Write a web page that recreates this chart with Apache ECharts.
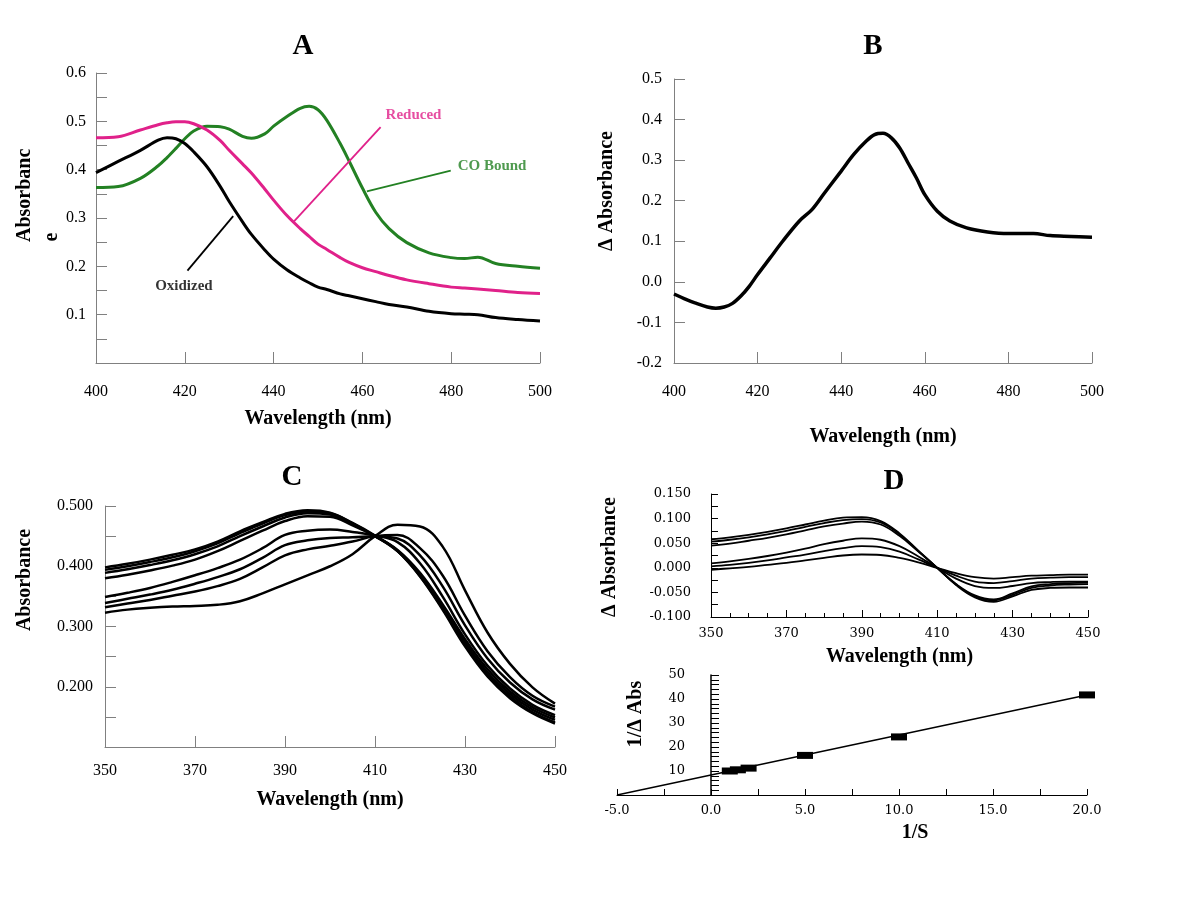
<!DOCTYPE html>
<html>
<head>
<meta charset="utf-8">
<script src="https://cdn.jsdelivr.net/npm/echarts@6/dist/echarts.min.js"></script>
<style>
html, body { margin: 0; padding: 0; background: #fff; }
#container { width: 1200px; height: 900px; }
</style>
</head>
<body>
<div id="container"></div>
<script>
// ---- panel A : absolute spectra ----
var waveA = [400,405,410,414,416,418,420,422,425,428,430,433,435,438,440,443,446,448,450,452,455,457,460,463,466,470,475,480,483,486,490,495,500];
var oxidized = [0.394,0.417,0.440,0.461,0.466,0.464,0.454,0.437,0.406,0.365,0.334,0.292,0.266,0.234,0.215,0.193,0.176,0.166,0.157,0.152,0.143,0.139,0.133,0.127,0.121,0.116,0.107,0.102,0.101,0.100,0.094,0.090,0.087];
var reduced = [0.466,0.468,0.482,0.493,0.497,0.499,0.499,0.495,0.482,0.460,0.440,0.412,0.393,0.360,0.337,0.305,0.278,0.262,0.246,0.235,0.218,0.208,0.197,0.189,0.181,0.172,0.164,0.157,0.155,0.153,0.150,0.146,0.144];
var coBound = [0.363,0.365,0.382,0.408,0.425,0.444,0.464,0.480,0.490,0.489,0.484,0.469,0.465,0.474,0.490,0.510,0.527,0.531,0.524,0.502,0.454,0.418,0.362,0.312,0.278,0.249,0.228,0.218,0.216,0.219,0.206,0.200,0.196];
// pointer lines and labels of panel A, in data units
var pointerReduced = [[464.1,0.488],[444.6,0.293]];
var pointerCO = [[479.9,0.398],[461.0,0.355]];
var pointerOx = [[420.6,0.191],[430.9,0.304]];
var labelsA = [
    {name:'Reduced', value:[471.5,0.512], color:'#e0218a'},
    {name:'CO Bound', value:[489.2,0.408], color:'#238123'},
    {name:'Oxidized', value:[419.8,0.160], color:'#000000'}
];

// ---- panel B : difference spectrum ----
var waveB = [400,403,405,408,410,412,414,416,418,420,423,426,430,433,436,440,443,446,448,450,452,454,456,458,460,463,466,470,475,480,486,490,495,500];
var deltaB = [-0.030,-0.044,-0.052,-0.062,-0.065,-0.062,-0.053,-0.035,-0.011,0.018,0.059,0.100,0.150,0.178,0.219,0.273,0.314,0.347,0.363,0.366,0.355,0.330,0.293,0.256,0.215,0.174,0.150,0.133,0.123,0.119,0.119,0.114,0.112,0.110];

// ---- panel C : titration spectra ----
var waveC = [350,355,360,365,370,375,380,385,390,395,400,405,410,415,420,425,430,435,440,445,450];
var specC = [
    [0.398,0.404,0.411,0.419,0.428,0.441,0.458,0.473,0.487,0.493,0.489,0.472,0.451,0.425,0.383,0.328,0.267,0.217,0.181,0.156,0.139],
    [0.394,0.400,0.407,0.415,0.425,0.438,0.455,0.471,0.485,0.491,0.488,0.471,0.450,0.425,0.384,0.330,0.270,0.220,0.184,0.158,0.141],
    [0.389,0.395,0.402,0.410,0.420,0.433,0.450,0.466,0.481,0.488,0.486,0.470,0.450,0.426,0.386,0.333,0.274,0.224,0.188,0.162,0.145],
    [0.380,0.386,0.393,0.401,0.411,0.425,0.442,0.459,0.475,0.483,0.482,0.468,0.450,0.427,0.389,0.337,0.279,0.229,0.192,0.166,0.149],
    [0.349,0.356,0.364,0.374,0.385,0.397,0.411,0.430,0.452,0.459,0.461,0.457,0.451,0.440,0.405,0.350,0.287,0.235,0.197,0.170,0.153],
    [0.339,0.346,0.353,0.361,0.371,0.382,0.395,0.414,0.435,0.443,0.447,0.448,0.450,0.446,0.418,0.367,0.302,0.247,0.207,0.179,0.162],
    [0.332,0.338,0.344,0.351,0.358,0.367,0.379,0.398,0.418,0.428,0.434,0.441,0.450,0.452,0.430,0.385,0.318,0.259,0.216,0.185,0.167],
    [0.323,0.328,0.331,0.333,0.334,0.336,0.342,0.355,0.370,0.385,0.400,0.420,0.450,0.469,0.466,0.433,0.360,0.290,0.238,0.199,0.172]
];

// ---- panel D : difference spectra + double reciprocal plot ----
var waveD = [350,355,360,365,370,375,380,385,390,395,400,405,410,415,420,425,430,435,440,445,450];
var diffD = [
    [0.058,0.062,0.067,0.073,0.080,0.088,0.096,0.102,0.103,0.095,0.070,0.035,0.000,-0.033,-0.056,-0.064,-0.052,-0.038,-0.033,-0.031,-0.030],
    [0.053,0.057,0.062,0.068,0.075,0.083,0.091,0.097,0.099,0.092,0.068,0.034,0.000,-0.034,-0.058,-0.066,-0.055,-0.041,-0.036,-0.034,-0.033],
    [0.045,0.049,0.055,0.061,0.068,0.076,0.084,0.090,0.094,0.088,0.065,0.033,0.000,-0.035,-0.060,-0.069,-0.058,-0.045,-0.041,-0.040,-0.040],
    [0.009,0.013,0.018,0.024,0.031,0.039,0.048,0.055,0.060,0.057,0.044,0.023,0.000,-0.022,-0.037,-0.041,-0.037,-0.031,-0.029,-0.028,-0.028],
    [0.003,0.006,0.010,0.015,0.021,0.027,0.034,0.040,0.044,0.042,0.033,0.017,0.000,-0.016,-0.028,-0.031,-0.027,-0.022,-0.020,-0.019,-0.019],
    [-0.004,-0.001,0.002,0.006,0.010,0.015,0.020,0.025,0.027,0.026,0.020,0.011,0.000,-0.011,-0.019,-0.022,-0.019,-0.016,-0.015,-0.014,-0.014]
];
var invS = [1.0,1.43,2.0,5.0,10.0,20.0];
var invAbs = [10.0,10.5,11.2,16.5,24.2,41.7];
var fitX = [-5.0,20.0];
var fitY = [0.0,41.7];

function pairs(xs, ys){
    return xs.map(function(x, i){ return [x, ys[i]]; });
}

var serif = 'Liberation Serif';
var wide = 'DejaVu Serif';
var grey = '#808080';

var myChart = echarts.init(document.getElementById('container'));

function nameStyle(){
    return {fontFamily: serif, fontWeight: 'bold', fontSize: 20, color: '#000'};
}
function labelStyle(extra){
    var s = {color: '#000', fontFamily: serif, fontSize: 16};
    for (var k in extra) s[k] = extra[k];
    return s;
}
function curve(xi, data, color, width, smooth){
    return {type:'line', xAxisIndex:xi, yAxisIndex:xi, data:data, smooth:smooth,
        showSymbol:false, lineStyle:{color:color, width:width}};
}

var series = [];
// A
series.push(curve(0, pairs(waveA, coBound), '#238123', 3, 0.35));
series.push(curve(0, pairs(waveA, reduced), '#e0218a', 3, 0.35));
series.push(curve(0, pairs(waveA, oxidized), '#000', 3, 0.35));
[[pointerReduced,'#e0218a'],[pointerCO,'#238123'],[pointerOx,'#000']].forEach(function(p){
    series.push(curve(0, p[0], p[1], 1.8, false));
});
series.push({type:'scatter', xAxisIndex:0, yAxisIndex:0, symbolSize:1,
    itemStyle:{color:'rgba(0,0,0,0)'},
    data: labelsA.map(function(l){
        return {name:l.name, value:l.value, label:{color:l.color}};
    }),
    label:{show:true, position:'inside', formatter:'{b}', fontFamily:serif, fontWeight:'bold', fontSize:15}});
// B
series.push(curve(1, pairs(waveB, deltaB), '#000', 3.5, 0.35));
// C
specC.forEach(function(s){
    series.push(curve(2, pairs(waveC, s), '#000', 2.5, 0.4));
});
// D top
diffD.forEach(function(s){
    series.push(curve(3, pairs(waveD, s), '#000', 1.8, 0.4));
});
// D bottom
series.push(curve(4, pairs(fitX, fitY), '#000', 1.5, false));
series.push({type:'scatter', xAxisIndex:4, yAxisIndex:4, data: pairs(invS, invAbs), symbol:'rect', symbolSize:[16,7],
    itemStyle:{color:'#000', opacity:1}});

var option = {
    animation: false,
    backgroundColor: '#fff',
    grid: [
        {left:96, top:73, width:444, height:290},
        {left:674, top:79, width:418, height:284},
        {left:105, top:506, width:450, height:241},
        {left:711, top:494, width:377, height:123},
        {left:617, top:675, width:470, height:120}
    ],
    xAxis: [
        {gridIndex:0, type:'value', min:400, max:500, interval:20,
            axisLine:{onZero:false, lineStyle:{color:grey}}, axisTick:{inside:true, length:11, lineStyle:{color:grey}},
            axisLabel:labelStyle({margin:21}), splitLine:{show:false},
            name:'Wavelength (nm)', nameLocation:'middle', nameGap:46, nameTextStyle:nameStyle()},
        {gridIndex:1, type:'value', min:400, max:500, interval:20,
            axisLine:{onZero:false, lineStyle:{color:grey}}, axisTick:{inside:true, length:11, lineStyle:{color:grey}},
            axisLabel:labelStyle({margin:21}), splitLine:{show:false},
            name:'Wavelength (nm)', nameLocation:'middle', nameGap:64, nameTextStyle:nameStyle()},
        {gridIndex:2, type:'value', min:350, max:450, interval:20,
            axisLine:{onZero:false, lineStyle:{color:grey}}, axisTick:{inside:true, length:11, lineStyle:{color:grey}},
            axisLabel:labelStyle({margin:16}), splitLine:{show:false},
            name:'Wavelength (nm)', nameLocation:'middle', nameGap:43, nameTextStyle:nameStyle()},
        {gridIndex:3, type:'value', min:350, max:450, interval:20,
            axisLine:{onZero:false, lineStyle:{color:'#000'}}, axisTick:{inside:true, length:7, lineStyle:{color:'#000'}},
            minorTick:{show:true, splitNumber:4, length:4, lineStyle:{color:'#000'}},
            axisLabel:{color:'#000', fontFamily:wide, fontSize:13, margin:10}, splitLine:{show:false},
            name:'Wavelength (nm)', nameLocation:'middle', nameGap:30, nameTextStyle:nameStyle()},
        {gridIndex:4, type:'value', min:-5, max:20, interval:5,
            axisLine:{onZero:false, lineStyle:{color:'#000'}}, axisTick:{inside:true, length:6, lineStyle:{color:'#000'}},
            minorTick:{show:true, splitNumber:2, length:6, lineStyle:{color:'#000'}},
            axisLabel:{color:'#000', fontFamily:wide, fontSize:13, margin:9,
                formatter:function(v){ return v.toFixed(1); }}, splitLine:{show:false}}
    ],
    yAxis: [
        {gridIndex:0, type:'value', min:0, max:0.6, interval:0.1,
            axisLine:{show:true, onZero:false, lineStyle:{color:grey}},
            axisTick:{show:true, inside:true, length:11, lineStyle:{color:grey}},
            minorTick:{show:true, splitNumber:2, length:11, lineStyle:{color:grey}},
            axisLabel:labelStyle({margin:10, formatter:function(v){ return v === 0 ? '' : v.toFixed(1); }}),
            splitLine:{show:false}},
        {gridIndex:1, type:'value', min:-0.2, max:0.5, interval:0.1,
            axisLine:{show:true, onZero:false, lineStyle:{color:grey}},
            axisTick:{show:true, inside:true, length:11, lineStyle:{color:grey}},
            axisLabel:labelStyle({margin:12, formatter:function(v){ return v.toFixed(1); }}),
            splitLine:{show:false}},
        {gridIndex:2, type:'value', min:0.1, max:0.5, interval:0.1,
            axisLine:{show:true, onZero:false, lineStyle:{color:grey}},
            axisTick:{show:true, inside:true, length:11, lineStyle:{color:grey}},
            minorTick:{show:true, splitNumber:2, length:11, lineStyle:{color:grey}},
            axisLabel:labelStyle({margin:12, formatter:function(v){ return v < 0.15 ? '' : v.toFixed(3); }}),
            splitLine:{show:false}},
        {gridIndex:3, type:'value', min:-0.1, max:0.15, interval:0.05,
            axisLine:{show:true, onZero:false, lineStyle:{color:'#000'}},
            axisTick:{show:true, inside:true, length:7, lineStyle:{color:'#000'}},
            minorTick:{show:true, splitNumber:2, length:7, lineStyle:{color:'#000'}},
            axisLabel:{color:'#000', fontFamily:wide, fontSize:13, margin:20,
                formatter:function(v){ return v.toFixed(3); }},
            splitLine:{show:false}},
        // the 1/S = 0 line sits 5/25 of the grid width from the left
        {gridIndex:4, type:'value', min:0, max:50, interval:10, offset:-94,
            axisLine:{show:true, onZero:false, lineStyle:{color:'#000', width:1.5}},
            axisTick:{show:true, inside:true, length:8, lineStyle:{color:'#000'}},
            minorTick:{show:true, splitNumber:5, length:8, lineStyle:{color:'#000'}},
            axisLabel:{color:'#000', fontFamily:wide, fontSize:13, margin:26,
                formatter:function(v){ return v === 0 ? '' : String(v); }},
            splitLine:{show:false}}
    ],
    graphic: [
        {type:'text', x:303, y:47, style:{text:'A', font:'bold 29px "Liberation Serif"', fill:'#000', align:'center', verticalAlign:'middle'}},
        {type:'text', x:873, y:47, style:{text:'B', font:'bold 29px "Liberation Serif"', fill:'#000', align:'center', verticalAlign:'middle'}},
        {type:'text', x:292, y:478, style:{text:'C', font:'bold 29px "Liberation Serif"', fill:'#000', align:'center', verticalAlign:'middle'}},
        {type:'text', x:894, y:482, style:{text:'D', font:'bold 29px "Liberation Serif"', fill:'#000', align:'center', verticalAlign:'middle'}},
        {type:'text', x:25, y:242, rotation:Math.PI/2, style:{text:'Absorbanc', font:'bold 20px "Liberation Serif"', fill:'#000', align:'left', verticalAlign:'middle'}},
        {type:'text', x:52, y:237, rotation:Math.PI/2, style:{text:'e', font:'bold 20px "Liberation Serif"', fill:'#000', align:'center', verticalAlign:'middle'}},
        {type:'text', x:607, y:191, rotation:Math.PI/2, style:{text:'\u0394 Absorbance', font:'bold 20px "Liberation Serif"', fill:'#000', align:'center', verticalAlign:'middle'}},
        {type:'text', x:25, y:580, rotation:Math.PI/2, style:{text:'Absorbance', font:'bold 20px "Liberation Serif"', fill:'#000', align:'center', verticalAlign:'middle'}},
        {type:'text', x:610, y:557, rotation:Math.PI/2, style:{text:'\u0394 Absorbance', font:'bold 20px "Liberation Serif"', fill:'#000', align:'center', verticalAlign:'middle'}},
        {type:'text', x:636, y:714, rotation:Math.PI/2, style:{text:'1/\u0394 Abs', font:'bold 20px "Liberation Serif"', fill:'#000', align:'center', verticalAlign:'middle'}},
        {type:'text', x:915, y:833, style:{text:'1/S', font:'bold 20px "Liberation Serif"', fill:'#000', align:'center', verticalAlign:'middle'}}
    ],
    series: series
};
myChart.setOption(option);
</script>
</body>
</html>
